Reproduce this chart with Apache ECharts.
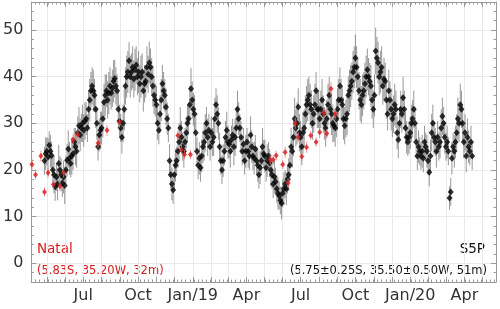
<!DOCTYPE html>
<html>
<head>
<meta charset="utf-8">
<script src="https://cdn.jsdelivr.net/npm/echarts@6/dist/echarts.min.js"></script>
<style>
  html, body { margin: 0; padding: 0; background: #fff; }
  #chart { width: 500px; height: 309px; }
</style>
</head>
<body>
<div id="chart"></div>
<script>
// x axis labels (quarters)
const labelDates = ['2018-07-01', '2018-10-01', '2019-01-01', '2019-04-01', '2019-07-01', '2019-10-01', '2020-01-01', '2020-04-01'];
const labelNames = ['Jul', 'Oct', 'Jan/19', 'Apr', 'Jul', 'Oct', 'Jan/20', 'Apr'];
const yTicks = [0, 10, 20, 30, 40, 50];

// S5P: one value every 2 days from the start date
const s5pStart = '2018-04-27';
const s5pStepDays = 2;
const s5pValues = [
  22, 23.5, 24, 22.8, 25.3, 24, 23.1, 20, 19, 16.4,
  18.5, 17, 21.4, 20, 19, 17.2, 18.5, 16.7, 20, 22.1,
  24.5, 22.5, 21.4, 23, 23.5, 26, 25, 24, 28, 29.5,
  27.5, 29, 30, 28.5, 30.5, 31, 29, 33, 35, 37,
  38, 37, 36, 33, 30, 25, 27.5, 28.5, 29, 31,
  34.5, 36, 37, 35, 36.5, 38, 36.5, 37.5, 39, 39.6,
  38, 37, 33, 30.5, 29, 27, 30, 33, 38, 40,
  41, 43.4, 40, 41, 42, 39.5, 41.5, 42.5, 40, 41,
  38.5, 40, 41, 37, 38.5, 39, 42, 40.5, 43, 42,
  40, 38, 36, 35, 34, 30, 28.5, 32, 35, 38.5,
  37, 36, 33.5, 31, 29, 22, 19, 17, 15.7, 19,
  21, 22, 24, 26, 29, 27, 25, 24, 26, 28,
  30, 31, 34, 37.4, 35, 33, 32, 28, 24, 21,
  22.5, 20.5, 23, 25, 26, 28, 30, 27, 28.5, 25,
  28, 26, 27, 31, 34, 32, 30, 25, 22, 20,
  22, 24, 27, 28.5, 26, 25.5, 24, 26.5, 27.5, 25,
  27, 29, 33, 31, 29, 27, 24, 25.5, 22, 24,
  26, 24, 23, 27.5, 25, 23, 22.5, 24.5, 22, 21,
  19, 20.5, 22, 25, 23.5, 23, 20.5, 22, 23, 21.5,
  20, 19, 17, 18.5, 17.5, 16, 15, 14.5, 13.5, 12.9,
  15, 16, 17, 16, 18, 19, 21, 25, 24, 27,
  31, 29, 30, 33.5, 28, 27, 25, 28, 29, 32,
  34, 35, 36, 34, 33, 30, 32, 34, 37, 33,
  33, 31, 33, 35, 32, 30, 29, 31, 34, 36,
  33, 32, 30, 29.5, 29, 31, 33, 35, 38, 35,
  34, 31, 29.5, 31, 32, 36, 37, 38, 39, 41,
  42, 44, 42, 40, 37, 35, 34, 36, 37, 38.5,
  40, 41.5, 40, 39, 38, 35, 33, 36, 45.5, 44,
  43, 40, 41, 42, 38, 39.5, 39, 35, 32, 37,
  35, 33, 31, 32, 34, 33, 28, 26.5, 30, 33,
  32, 35.5, 33, 29, 27, 26, 27, 28, 30, 31,
  33, 30, 26, 23, 25, 24, 23, 24, 22.5, 26,
  25, 24, 22, 19.5, 23, 28, 30, 27, 26, 24,
  27, 25, 26, 29, 31.5, 30, 27, 25, 26, 24,
  14, 15.3, 22.5, 25, 24, 26, 28, 31, 30, 34,
  33, 30, 26, 28, 23, 27, 25, 24, 26, 23
];
const s5pErrors = [
  3, 3.5, 3, 4, 3, 3.5, 3, 3, 4, 3,
  3, 3.5, 4, 3, 3.5, 3, 3.5, 4, 3, 3.5,
  4, 3.5, 3, 4, 3.5, 3, 4, 3.5, 3.5, 4,
  3.5, 3, 4, 3.5, 4, 3.5, 3, 4, 4.5, 4,
  4, 4.5, 3.5, 4, 3.5, 3, 3.5, 4, 3.5, 4,
  4, 4.5, 3.5, 4, 4.5, 4, 3.5, 4, 4.5, 4,
  4, 3.5, 4, 3.5, 3, 3.5, 4, 4.5, 4, 4.5,
  4.5, 4, 4.5, 4, 4.5, 4, 4.5, 4, 4, 4.5,
  4, 4.5, 4, 4.5, 4, 3.5, 4.5, 4, 4.5, 4,
  4, 4.5, 4, 3.5, 4, 3.5, 3, 4, 4.5, 4,
  4, 3.5, 4, 3.5, 3, 3.5, 3, 3.5, 3, 3.5,
  3.5, 3, 3.5, 4, 4.5, 3.5, 3, 3.5, 3, 3.5,
  4, 3.5, 4, 4.5, 4, 3.5, 4, 3.5, 3, 3,
  3.5, 3, 3.5, 3.5, 4, 4, 3.5, 4, 3.5, 3,
  3.5, 3, 4, 4.5, 3.5, 4, 3.5, 3, 3, 3,
  3.5, 3, 3.5, 4, 3.5, 3, 3.5, 3, 3.5, 4,
  4, 4.5, 4, 3.5, 3, 3.5, 3, 3.5, 3, 3.5,
  3, 3.5, 3, 4, 3.5, 3, 3.5, 3, 3, 3.5,
  3, 3.5, 3, 4, 3, 3.5, 3, 3.5, 3, 3,
  3.5, 3, 3, 3.5, 3, 3, 3.5, 3, 3, 3.5,
  3, 3.5, 3, 3.5, 3, 3.5, 3.5, 4, 3.5, 4,
  4.5, 4, 4.5, 4, 4, 3.5, 4, 4.5, 4, 4,
  4, 4.5, 4, 4.5, 4, 3.5, 4, 4.5, 4, 4,
  4, 3.5, 4, 4.5, 4, 3.5, 4, 4, 4.5, 4,
  4, 4.5, 4, 3.5, 4, 4, 4.5, 4.5, 4, 4.5,
  4, 4.5, 4, 4, 4.5, 4, 4.5, 4.5, 4, 4.5,
  4.5, 5, 4.5, 4, 4, 4.5, 4, 4.5, 4, 4.5,
  4.5, 4.5, 4, 4, 4.5, 4, 4, 4.5, 5, 4.5,
  4.5, 4, 4.5, 4.5, 4, 4.5, 4, 4, 3.5, 4.5,
  4, 4.5, 4, 4, 4.5, 4, 3.5, 4, 3.5, 4,
  4, 4.5, 4, 3.5, 3.5, 3, 3.5, 3.5, 4, 4,
  4, 3.5, 3.5, 3, 3.5, 3, 3, 3.5, 3, 3.5,
  3, 3.5, 3, 3, 3.5, 4, 4, 3.5, 3, 3.5,
  3.5, 3, 3.5, 4, 4, 3.5, 3.5, 3, 3.5, 3,
  2.5, 3, 3.5, 3, 3.5, 3.5, 4, 4.5, 4, 4.5,
  4, 4, 3.5, 4, 3.5, 4, 3.5, 3, 3.5, 3
];

// Natal ground station
const natalDates = [
  '2018-04-06', '2018-04-12', '2018-04-21', '2018-04-27', '2018-05-03', '2018-05-12', '2018-05-23', '2018-05-29',
  '2018-06-14', '2018-06-22', '2018-07-26', '2018-08-10', '2018-08-31',
  '2018-12-07', '2018-12-13', '2018-12-18', '2018-12-28',
  '2019-05-11', '2019-05-16', '2019-05-21', '2019-06-01', '2019-06-05', '2019-06-10', '2019-06-22',
  '2019-06-27', '2019-07-03', '2019-07-11', '2019-07-18', '2019-07-27', '2019-08-02', '2019-08-09',
  '2019-08-14', '2019-08-21', '2019-08-28'
];
const natalValues = [
  21.2, 19.0, 23.0, 15.3, 19.4, 16.9, 16.5, 19.4,
  26.5, 27.6, 25.8, 28.5, 30.3,
  27.4, 24.4, 23.3, 23.3,
  22.2, 22.2, 23.1, 21.2, 23.8, 17.2, 30.0,
  27.0, 22.9, 24.9, 27.4, 26.0, 28.1, 32.2,
  27.8, 37.4, 32.0
];
const natalErrors = [
  1.2, 1, 1.2, 1, 1, 1.2, 1, 1,
  1.2, 1, 1, 1.2, 1.2,
  1, 1, 1, 1,
  1, 1, 1, 1, 1.2, 1, 1.2,
  1, 1, 1.2, 1, 1, 1.2, 1.2,
  1, 1.5, 1.2
];

const DAY = 86400000;
const toTime = s => { const p = s.split('-'); return Date.UTC(+p[0], +p[1] - 1, +p[2]); };

const xMin = toTime('2018-04-05'); // a Thursday, multiple of 7 days since epoch
const xMax = toTime('2020-05-24');
const weekly = 7 * DAY;

const monthTicks = [];
for (let y = 2018, m = 4; ; m++) {
  if (m > 11) { m = 0; y++; }
  monthTicks.push(Date.UTC(y, m, 1));
  if (y === 2020 && m === 4) break;
}
const quarterTicks = labelDates.map(toTime);

const s5pT0 = toTime(s5pStart);
const s5pPoints = s5pValues.map((v, i) => [s5pT0 + i * s5pStepDays * DAY, v]);
const s5pBars = s5pValues.map((v, i) => [s5pT0 + i * s5pStepDays * DAY, v - s5pErrors[i], v + s5pErrors[i]]);
const natalPoints = natalValues.map((v, i) => [toTime(natalDates[i]), v]);
const natalBars = natalValues.map((v, i) => [toTime(natalDates[i]), v - natalErrors[i], v + natalErrors[i]]);

const frame = '#9a9a9a';
const gridColor = '#e9e9e9';
const textColor = '#333';
const red = '#d7191c';

function errorBars(color, opacity) {
  return function (params, api) {
    const a = api.coord([api.value(0), api.value(1)]);
    const b = api.coord([api.value(0), api.value(2)]);
    return {
      type: 'line',
      shape: { x1: a[0], y1: a[1], x2: b[0], y2: b[1] },
      style: { stroke: color, lineWidth: 1, opacity: opacity }
    };
  };
}

function xAxis(pos, major) {
  return {
    type: 'value', min: xMin, max: xMax, position: pos,
    interval: major ? undefined : weekly,
    axisLine: { show: major, onZero: false, lineStyle: { color: frame } },
    axisTick: major
      ? { show: true, inside: true, length: 5, customValues: monthTicks, lineStyle: { color: frame } }
      : { show: true, inside: true, length: 2.5, lineStyle: { color: frame } },
    axisLabel: (major && pos === 'bottom')
      ? { show: true, customValues: quarterTicks, formatter: v => labelNames[quarterTicks.indexOf(v)],
          fontSize: 16, color: textColor, fontFamily: 'DejaVu Sans', margin: 6 }
      : { show: false },
    splitLine: { show: major && pos === 'bottom', lineStyle: { color: gridColor } }
  };
}

function yAxis(pos, major) {
  return {
    type: 'value', min: -4, max: 56, position: pos,
    interval: major ? undefined : 2,
    axisLine: { show: major, onZero: false, lineStyle: { color: frame } },
    axisTick: major
      ? { show: true, inside: true, length: 5, customValues: yTicks, lineStyle: { color: frame } }
      : { show: true, inside: true, length: 2.5, lineStyle: { color: frame } },
    axisLabel: (major && pos === 'left')
      ? { show: true, customValues: yTicks, fontSize: 16, color: textColor, fontFamily: 'DejaVu Sans', margin: 8 }
      : { show: false },
    splitLine: { show: major && pos === 'left', lineStyle: { color: gridColor } }
  };
}

const chart = echarts.init(document.getElementById('chart'));
chart.setOption({
  animation: false,
  backgroundColor: '#fff',
  grid: { left: 30, right: 4, top: 2, bottom: 27 },
  xAxis: [xAxis('bottom', true), xAxis('bottom', false), xAxis('top', true), xAxis('top', false)],
  yAxis: [yAxis('left', true), yAxis('left', false), yAxis('right', true), yAxis('right', false)],
  series: [
    { type: 'custom', renderItem: errorBars('#444', 0.55), data: s5pBars, encode: { x: 0, y: [1, 2] }, z: 1 },
    { type: 'scatter', data: s5pPoints, symbol: 'diamond', symbolSize: [6, 7],
      itemStyle: { color: '#000' }, z: 2 },
    { type: 'custom', renderItem: errorBars('#f08080', 0.8), data: natalBars, encode: { x: 0, y: [1, 2] }, z: 3 },
    { type: 'scatter', data: natalPoints, symbol: 'diamond', symbolSize: [5, 6],
      itemStyle: { color: red }, z: 4 }
  ],
  graphic: [
    { type: 'text', left: 37, top: 242, style: { text: 'Natal', fill: red, font: '13.5px "DejaVu Sans"' } },
    { type: 'text', left: 37, top: 265, style: { text: '(5.83S, 35.20W, 32m)', fill: red, font: '11.5px "DejaVu Sans"' } },
    { type: 'text', right: 15, top: 242, style: { text: 'S5P', fill: '#111', font: '13.5px "DejaVu Sans"' } },
    { type: 'text', right: 13, top: 265, style: { text: '(5.75±0.25S, 35.50±0.50W, 51m)', fill: '#111', font: '11.5px "DejaVu Sans"' } }
  ]
});
</script>
</body>
</html>
